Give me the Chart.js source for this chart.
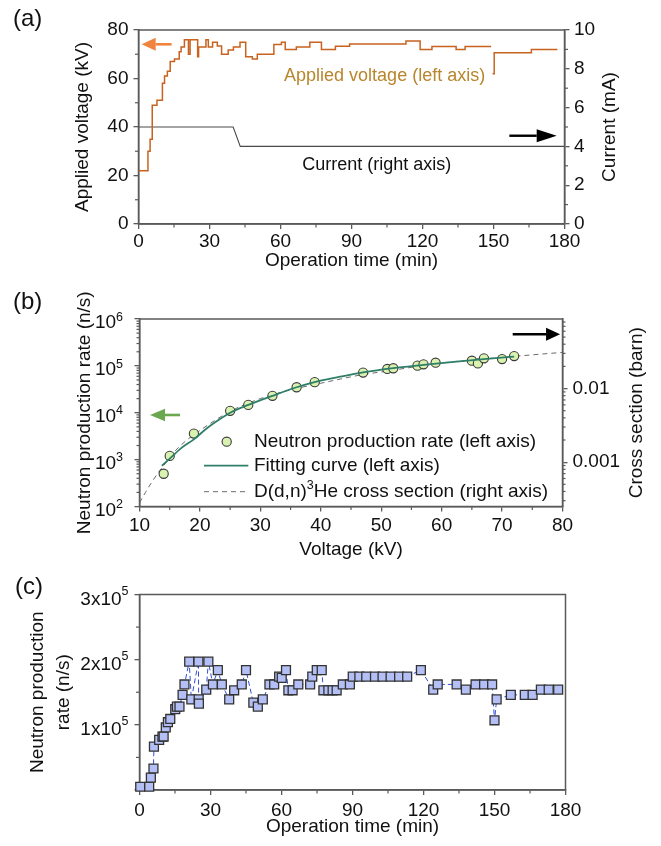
<!DOCTYPE html>
<html><head><meta charset="utf-8">
<script src="https://cdn.jsdelivr.net/npm/chart.js@4.4.1/dist/chart.umd.min.js"></script>
<style>
html,body{margin:0;padding:0;background:#fff;width:661px;height:846px;overflow:hidden}
canvas{position:absolute;left:0;top:0}
</style></head><body>
<canvas id="ca" width="661" height="846"></canvas>
<canvas id="cb" width="661" height="846"></canvas>
<canvas id="cc" width="661" height="846"></canvas>
<script>
// ---------------- DATA ----------------
// (a) applied voltage (step line) and current vs operation time
const voltageTime = [0, 4.0, 4.9, 5.8, 7.8, 10.1, 11.0, 12.2, 13.4, 15.2, 17.2, 18.0, 19.4, 21.1, 21.8, 25.0, 25.4, 28.5, 29.5, 31.3, 33.3, 35.1, 37.9, 40.1, 42.9, 45.3, 48.1, 50.2, 57.2, 60.4, 62.0, 66.7, 72.4, 77.3, 83.2, 89.2, 113.0, 119.0, 124.0, 134.2, 138.0, 149.0, 149.3, 149.6, 150.3, 166.0, 177.0];
const voltageKV   = [22, 30, 35, 49, 51, 58, 61, 63, 67, 68, 71, 73, 76, 70, 76, 69, 73, 76, 73, 75, 73.4, 70, 71.8, 73, 75, 69, 68, 70, 74, 75, 72, 73, 75, 72, 73.3, 74.2, 75.5, 72, 73.2, 72, 73.2, 73.2, null, 62, 70.6, 72, 72];
const currentTime = [0, 40, 43, 180];
const currentMA   = [5, 5, 4, 4];
const timeTicks   = [0, 30, 60, 90, 120, 150, 180];
const timeMinor   = [15, 45, 75, 105, 135, 165];
const kvTicks     = [0, 20, 40, 60, 80];
const kvMinor     = [10, 30, 50, 70];
const maTicks     = [0, 2, 4, 6, 8, 10];
const maMinor     = [1, 3, 5, 7, 9];

// (b) neutron production rate vs voltage
const measVoltage = [14, 15, 19, 25, 28, 32, 36, 39, 47, 51, 52, 56, 57, 59, 65, 66, 67, 70, 72];
const measRate    = [500, 1200, 3600, 11000, 14700, 23000, 35000, 45000, 72000, 86000, 89000, 101000, 108000, 117000, 129000, 113000, 145000, 140000, 162000];
const fitVoltage  = [13.7, 15, 17, 19, 21, 23, 25, 28, 32, 36, 39, 43, 47, 52, 57, 62, 67, 72];
const fitRate     = [740, 1050, 1800, 2700, 4500, 6900, 10000, 14700, 23000, 35000, 45000, 58000, 73000, 90000, 105000, 122000, 140000, 158000];
const xsVoltage   = [10, 11, 12, 13, 14, 16, 18, 20, 25, 30, 35, 40, 47, 50, 60, 70, 80];
const xsBarn      = [0.00028, 0.00039, 0.00053, 0.0007, 0.0009, 0.00145, 0.00205, 0.0027, 0.0049, 0.0073, 0.0096, 0.0118, 0.0155, 0.0168, 0.0222, 0.0265, 0.031];
const voltTicks   = [10, 20, 30, 40, 50, 60, 70, 80];
const voltMinor   = [15, 25, 35, 45, 55, 65, 75];
const rateExponents = [2, 3, 4, 5, 6];
const xsTicks     = [0.001, 0.01];
const xsTickLabels = ['0.001', '0.01'];

// (c) neutron production rate vs operation time
const opTime = [0.3, 4.1, 4.8, 5.9, 6.1, 8.3, 9.7, 10.2, 11.1, 12.0, 13.0, 15.1, 15.8, 16.9, 18.2, 19.0, 21.0, 21.9, 24.9, 25.0, 25.1, 28.2, 29.1, 31.0, 33.1, 34.8, 37.9, 40.0, 43.2, 45.0, 48.1, 50.0, 52.1, 54.9, 56.9, 59.0, 60.1, 61.9, 62.9, 64.7, 67.1, 72.1, 73.0, 74.9, 77.0, 77.7, 79.8, 81.6, 83.3, 85.9, 88.9, 90.1, 92.9, 95.8, 99.5, 102.7, 106.1, 109.7, 113.1, 118.9, 124.1, 126.0, 134.0, 137.9, 142.0, 145.6, 149.0, 150.0, 150.9, 156.9, 162.8, 166.1, 169.6, 172.9, 176.9];
const opRate = [5000, 5000, 19000, 33000, 66500, 77000, 82000, 82000, 96000, 104000, 109000, 124000, 128000, 128000, 146000, 162000, 197000, 139000, 197000, 139000, 132500, 154000, 197000, 162000, 184000, 162000, 139000, 153000, 162000, 184000, 134000, 128000, 139000, 162000, 162000, 174000, 172000, 184000, 153000, 153000, 162000, 162000, 174000, 184000, 184000, 153000, 153000, 153000, 153000, 162000, 162000, 174000, 174000, 174000, 174000, 174000, 174000, 174000, 174000, 184000, 154000, 162000, 162000, 154000, 162000, 162000, 162000, 107000, 139000, 146000, 146000, 146000, 154000, 154000, 154000];
const rateTicks   = [0, 100000, 200000, 300000];
const rateMantissas = ['', '1', '2', '3'];
const rateMinor   = [50000, 150000, 250000];

// ---------------- STYLE HELPERS ----------------
const FONT = '"Liberation Sans", Arial, Helvetica, sans-serif';
const TXT = '#111111';
const AX = '#5a5a5a';
const tickFont = {family: FONT, size: 19, lineHeight: 1};
const pts = (xs, ys) => xs.map((x, i) => ({x: x, y: ys[i]}));
const fixSize = px => (s => { if (s.isHorizontal()) s.height = px; else s.width = px; });
const setTicks = vals => (s => { s.ticks = vals.map(v => ({value: v})); });
const gridCfg = () => ({display: true, drawOnChartArea: false, drawTicks: true, tickLength: 5, color: AX, lineWidth: 1.3});
const borderCfg = () => ({display: true, color: AX, width: 1.5});
Chart.defaults.font.family = FONT;

function arrow(ctx, x1, y1, x2, y2, color, lw, headLen, headHalf) {
  const a = Math.atan2(y2 - y1, x2 - x1);
  const bx = x2 - headLen * Math.cos(a), by = y2 - headLen * Math.sin(a);
  ctx.save();
  ctx.strokeStyle = color; ctx.fillStyle = color; ctx.lineWidth = lw;
  ctx.beginPath(); ctx.moveTo(x1, y1); ctx.lineTo(bx, by); ctx.stroke();
  ctx.beginPath(); ctx.moveTo(x2, y2);
  ctx.lineTo(bx - headHalf * Math.sin(a), by + headHalf * Math.cos(a));
  ctx.lineTo(bx + headHalf * Math.sin(a), by - headHalf * Math.cos(a));
  ctx.closePath(); ctx.fill();
  ctx.restore();
}
function text(ctx, s, x, y, size, color, align, baseline) {
  ctx.save();
  ctx.font = size + 'px ' + FONT; ctx.fillStyle = color;
  ctx.textAlign = align || 'left'; ctx.textBaseline = baseline || 'middle';
  ctx.fillText(s, x, y);
  ctx.restore();
}
function vtext(ctx, s, x, y, size) {
  ctx.save();
  ctx.translate(x, y); ctx.rotate(-Math.PI / 2);
  ctx.font = size + 'px ' + FONT; ctx.fillStyle = TXT;
  ctx.textAlign = 'center'; ctx.textBaseline = 'middle';
  ctx.fillText(s, 0, 0);
  ctx.restore();
}
// base text + superscript, right-aligned at xRight, base cap centre at yc
function supLabel(ctx, base, sup, xRight, yc, supGap) {
  ctx.save();
  ctx.fillStyle = TXT; ctx.textBaseline = 'alphabetic'; ctx.textAlign = 'left';
  ctx.font = '19px ' + FONT; const wb = ctx.measureText(base).width;
  ctx.font = '12.5px ' + FONT; const ws = ctx.measureText(sup).width;
  const x0 = xRight - wb - ws;
  const yb = yc + 6.8;
  ctx.font = '19px ' + FONT; ctx.fillText(base, x0, yb);
  ctx.font = '12.5px ' + FONT; ctx.fillText(sup, x0 + wb, yb - 13.6 - supGap + 8.95);
  ctx.restore();
}
function minorTicks(chart, id, values, side, len) {
  const ctx = chart.ctx, ca = chart.chartArea, s = chart.scales[id];
  ctx.save(); ctx.strokeStyle = AX; ctx.lineWidth = 1.2;
  values.forEach(v => {
    const p = s.getPixelForValue(v);
    ctx.beginPath();
    if (side === 'left') { ctx.moveTo(ca.left, p); ctx.lineTo(ca.left - len, p); }
    else if (side === 'right') { ctx.moveTo(ca.right, p); ctx.lineTo(ca.right + len, p); }
    else { ctx.moveTo(p, ca.bottom); ctx.lineTo(p, ca.bottom + len); }
    ctx.stroke();
  });
  ctx.restore();
}
const framePlugin = {
  id: 'frame',
  beforeDatasetsDraw(chart) {
    const ctx = chart.ctx, ca = chart.chartArea;
    ctx.save(); ctx.strokeStyle = AX; ctx.lineWidth = 1.5;
    ctx.strokeRect(ca.left, ca.top, ca.right - ca.left, ca.bottom - ca.top);
    ctx.restore();
  }
};
const baseOpts = {responsive: false, animation: false, devicePixelRatio: 1, events: []};

// ---------------- PANEL (a) ----------------
new Chart(document.getElementById('ca'), {
  type: 'line',
  data: {datasets: [
    {label: 'Applied voltage', data: pts(voltageTime, voltageKV), yAxisID: 'y', stepped: 'before', spanGaps: false,
     borderColor: '#c8621e', borderWidth: 1.5, pointRadius: 0, fill: false},
    {label: 'Current', data: pts(currentTime, currentMA), yAxisID: 'y2',
     borderColor: '#4a4a4a', borderWidth: 1.1, pointRadius: 0, fill: false, tension: 0}
  ]},
  options: Object.assign({}, baseOpts, {
    layout: {padding: {top: 30, left: 0, right: 0, bottom: 566}},
    plugins: {legend: {display: false}, tooltip: {enabled: false}},
    scales: {
      x: {type: 'linear', position: 'bottom', min: 0, max: 180, afterBuildTicks: setTicks(timeTicks),
          ticks: {font: tickFont, color: TXT, padding: 3.5, maxRotation: 0, autoSkip: false},
          grid: gridCfg(), border: borderCfg(),
          title: {display: true, text: 'Operation time (min)', color: TXT, font: {family: FONT, size: 19, lineHeight: 1}, padding: {top: 0, bottom: 10}},
          afterFit: fixSize(56)},
      y: {type: 'linear', position: 'left', min: 0, max: 80, afterBuildTicks: setTicks(kvTicks),
          ticks: {font: tickFont, color: TXT, padding: 5},
          grid: gridCfg(), border: borderCfg(),
          title: {display: true, text: 'Applied voltage (kV)', color: TXT, font: {family: FONT, size: 19, lineHeight: 1}, padding: {top: 73.5, bottom: 0}},
          afterFit: fixSize(138.5)},
      y2: {type: 'linear', position: 'right', min: 0, max: 10, afterBuildTicks: setTicks(maTicks),
          ticks: {font: tickFont, color: TXT, padding: 4.5},
          grid: gridCfg(), border: borderCfg(),
          afterFit: fixSize(96.5)}
    }
  }),
  plugins: [framePlugin, {
    id: 'annA',
    afterDraw(chart) {
      const ctx = chart.ctx, ca = chart.chartArea, x = chart.scales.x, y = chart.scales.y, y2 = chart.scales.y2;
      minorTicks(chart, 'x', timeMinor, 'bottom', 3.5);
      minorTicks(chart, 'y', kvMinor, 'left', 3.5);
      minorTicks(chart, 'y2', maMinor, 'right', 3.5);
      vtext(ctx, 'Current (mA)', 610, (ca.top + ca.bottom) / 2, 19);
      arrow(ctx, x.getPixelForValue(14), y.getPixelForValue(74.1), x.getPixelForValue(1.35), y.getPixelForValue(74.1), '#f0843f', 2.6, 14, 6.5);
      arrow(ctx, x.getPixelForValue(156.7), y2.getPixelForValue(4.55), x.getPixelForValue(176.7), y2.getPixelForValue(4.55), '#000000', 2.4, 20, 6.5);
      text(ctx, 'Applied voltage (left axis)', x.getPixelForValue(61.5), y.getPixelForValue(60.9), 18, '#b8862c');
      text(ctx, 'Current (right axis)', x.getPixelForValue(69.2), y2.getPixelForValue(3.05), 18, TXT);
      text(ctx, '(a)', 13, 26, 24, TXT, 'left', 'alphabetic');
    }
  }]
});

// ---------------- PANEL (b) ----------------
new Chart(document.getElementById('cb'), {
  type: 'line',
  data: {datasets: [
    {label: 'Fitting curve (left axis)', data: pts(fitVoltage, fitRate), yAxisID: 'y', order: 0,
     borderColor: '#2e7f68', borderWidth: 1.8, pointRadius: 0, fill: false, cubicInterpolationMode: 'monotone'},
    {label: 'Neutron production rate (left axis)', data: pts(measVoltage, measRate), yAxisID: 'y', order: 1, showLine: false,
     pointRadius: 4.6, pointBackgroundColor: '#daf2b0', pointBorderColor: '#3a3a3a', pointBorderWidth: 1.1},
    {label: 'D(d,n)3He cross section (right axis)', data: pts(xsVoltage, xsBarn), yAxisID: 'y2', order: 2,
     borderColor: '#6b6b6b', borderWidth: 1, borderDash: [5, 4], pointRadius: 0, fill: false, cubicInterpolationMode: 'monotone'}
  ]},
  options: Object.assign({}, baseOpts, {
    layout: {padding: {top: 319, left: 0, right: 0, bottom: 279.5}},
    plugins: {legend: {display: false}, tooltip: {enabled: false}},
    scales: {
      x: {type: 'linear', position: 'bottom', min: 10, max: 80, afterBuildTicks: setTicks(voltTicks),
          ticks: {font: tickFont, color: TXT, padding: 5, maxRotation: 0, autoSkip: false},
          grid: gridCfg(), border: borderCfg(),
          title: {display: true, text: 'Voltage (kV)', color: TXT, font: {family: FONT, size: 19, lineHeight: 1}, padding: {top: 0, bottom: 7}},
          afterFit: fixSize(60)},
      y: {type: 'logarithmic', position: 'left', min: 100, max: 1000000, afterBuildTicks: setTicks(rateExponents.map(e => Math.pow(10, e))),
          ticks: {font: tickFont, color: TXT, padding: 5, callback: () => ''},
          grid: gridCfg(), border: borderCfg(),
          title: {display: true, text: 'Neutron production rate (n/s)', color: TXT, font: {family: FONT, size: 19, lineHeight: 1}, padding: {top: 75.5, bottom: 0}},
          afterFit: fixSize(139.5)},
      y2: {type: 'logarithmic', position: 'right', min: 0.00025, max: 0.088, afterBuildTicks: setTicks(xsTicks),
          ticks: {font: tickFont, color: TXT, padding: 5, callback: (v, i) => xsTickLabels[i]},
          grid: gridCfg(), border: borderCfg(),
          afterFit: fixSize(98.5)}
    }
  }),
  plugins: [framePlugin, {
    id: 'annB',
    afterDraw(chart) {
      const ctx = chart.ctx, ca = chart.chartArea, x = chart.scales.x, y = chart.scales.y;
      minorTicks(chart, 'x', voltMinor, 'bottom', 3.5);
      const lm = [], rm = [];
      for (let e = 2; e < 6; e++) for (let m = 2; m <= 9; m++) lm.push(m * Math.pow(10, e));
      [[-4, 3, 9], [-3, 2, 9], [-2, 2, 8]].forEach(([e, a, b]) => { for (let m = a; m <= b; m++) rm.push(m * Math.pow(10, e)); });
      minorTicks(chart, 'y', lm, 'left', 3);
      minorTicks(chart, 'y2', rm, 'right', 3);
      rateExponents.forEach(e => supLabel(ctx, '10', String(e), ca.left - 16.5, y.getPixelForValue(Math.pow(10, e)) + 2.5, 3));
      vtext(ctx, 'Cross section (barn)', 636.5, (ca.top + ca.bottom) / 2, 19);
      arrow(ctx, x.getPixelForValue(71.76), y.getPixelForValue(472000), x.getPixelForValue(79.6), y.getPixelForValue(472000), '#000000', 2.4, 14, 6.5);
      arrow(ctx, x.getPixelForValue(16.7), y.getPixelForValue(8960), x.getPixelForValue(11.74), y.getPixelForValue(8960), '#6aa84f', 2.6, 15, 6.3);
      // legend
      const ds = chart.data.datasets;
      const lx0 = ca.left + 64.5, lx1 = ca.left + 108.8, tx = ca.left + 114.5;
      const r1 = ca.top + 122.7, r2 = ca.top + 146.7, r3 = ca.top + 172.7;
      ctx.save();
      ctx.beginPath(); ctx.arc(ca.left + 87.2, r1, 4.6, 0, Math.PI * 2);
      ctx.fillStyle = ds[1].pointBackgroundColor; ctx.fill();
      ctx.lineWidth = 1.1; ctx.strokeStyle = ds[1].pointBorderColor; ctx.stroke();
      ctx.beginPath(); ctx.moveTo(lx0, r2); ctx.lineTo(lx1, r2);
      ctx.strokeStyle = ds[0].borderColor; ctx.lineWidth = 1.8; ctx.stroke();
      ctx.beginPath(); ctx.setLineDash([5, 4]); ctx.moveTo(lx0, r3); ctx.lineTo(lx1, r3);
      ctx.strokeStyle = ds[2].borderColor; ctx.lineWidth = 1; ctx.stroke();
      ctx.restore();
      text(ctx, 'Neutron production rate (left axis)', tx, r1, 19, TXT);
      text(ctx, 'Fitting curve (left axis)', tx, r2, 19, TXT);
      ctx.save();
      ctx.fillStyle = TXT; ctx.textBaseline = 'middle'; ctx.textAlign = 'left';
      ctx.font = '19px ' + FONT;
      const p1 = 'D(d,n)'; const w1 = ctx.measureText(p1).width;
      ctx.fillText(p1, tx, r3);
      ctx.font = '12.5px ' + FONT; const w2 = ctx.measureText('3').width;
      ctx.fillText('3', tx + w1, r3 - 6);
      ctx.font = '19px ' + FONT;
      ctx.fillText('He cross section (right axis)', tx + w1 + w2, r3);
      ctx.restore();
      text(ctx, '(b)', 13, 308.5, 24, TXT, 'left', 'alphabetic');
    }
  }]
});

// ---------------- PANEL (c) ----------------
new Chart(document.getElementById('cc'), {
  type: 'line',
  data: {datasets: [
    {label: 'Neutron production rate', data: pts(opTime, opRate), yAxisID: 'y', clip: false,
     borderColor: '#2f4fd8', borderWidth: 1, borderDash: [5, 3], fill: false, tension: 0,
     pointStyle: 'rect', pointRadius: 6.3, pointBackgroundColor: '#b3bff5', pointBorderColor: '#333333', pointBorderWidth: 1.3}
  ]},
  options: Object.assign({}, baseOpts, {
    layout: {padding: {top: 594.5, left: 0, right: 95.5, bottom: 0}},
    plugins: {legend: {display: false}, tooltip: {enabled: false}},
    scales: {
      x: {type: 'linear', position: 'bottom', min: 0, max: 180, afterBuildTicks: setTicks(timeTicks),
          ticks: {font: tickFont, color: TXT, padding: 6.5, maxRotation: 0, autoSkip: false},
          grid: gridCfg(), border: borderCfg(),
          title: {display: true, text: 'Operation time (min)', color: TXT, font: {family: FONT, size: 19, lineHeight: 1}, padding: {top: 0, bottom: 9.8}},
          afterFit: fixSize(56)},
      y: {type: 'linear', position: 'left', min: 0, max: 300000, afterBuildTicks: setTicks(rateTicks),
          ticks: {font: tickFont, color: TXT, padding: 5, callback: () => ''},
          grid: gridCfg(), border: borderCfg(),
          title: {display: true, text: ['Neutron production', 'rate (n/s)'], color: TXT, font: {family: FONT, size: 19, lineHeight: 26 / 19}, padding: {top: 24.3, bottom: 0}},
          afterFit: fixSize(139.5)}
    }
  }),
  plugins: [framePlugin, {
    id: 'annC',
    afterDraw(chart) {
      const ctx = chart.ctx, ca = chart.chartArea, y = chart.scales.y;
      minorTicks(chart, 'x', timeMinor, 'bottom', 3.5);
      minorTicks(chart, 'y', rateMinor, 'left', 3.5);
      rateTicks.forEach((v, i) => { if (rateMantissas[i]) supLabel(ctx, rateMantissas[i] + 'x10', '5', ca.left - 11, y.getPixelForValue(v) + 3.5, 5); });
      text(ctx, '(c)', 15, 593.5, 24, TXT, 'left', 'alphabetic');
    }
  }]
});
</script>
</body></html>
